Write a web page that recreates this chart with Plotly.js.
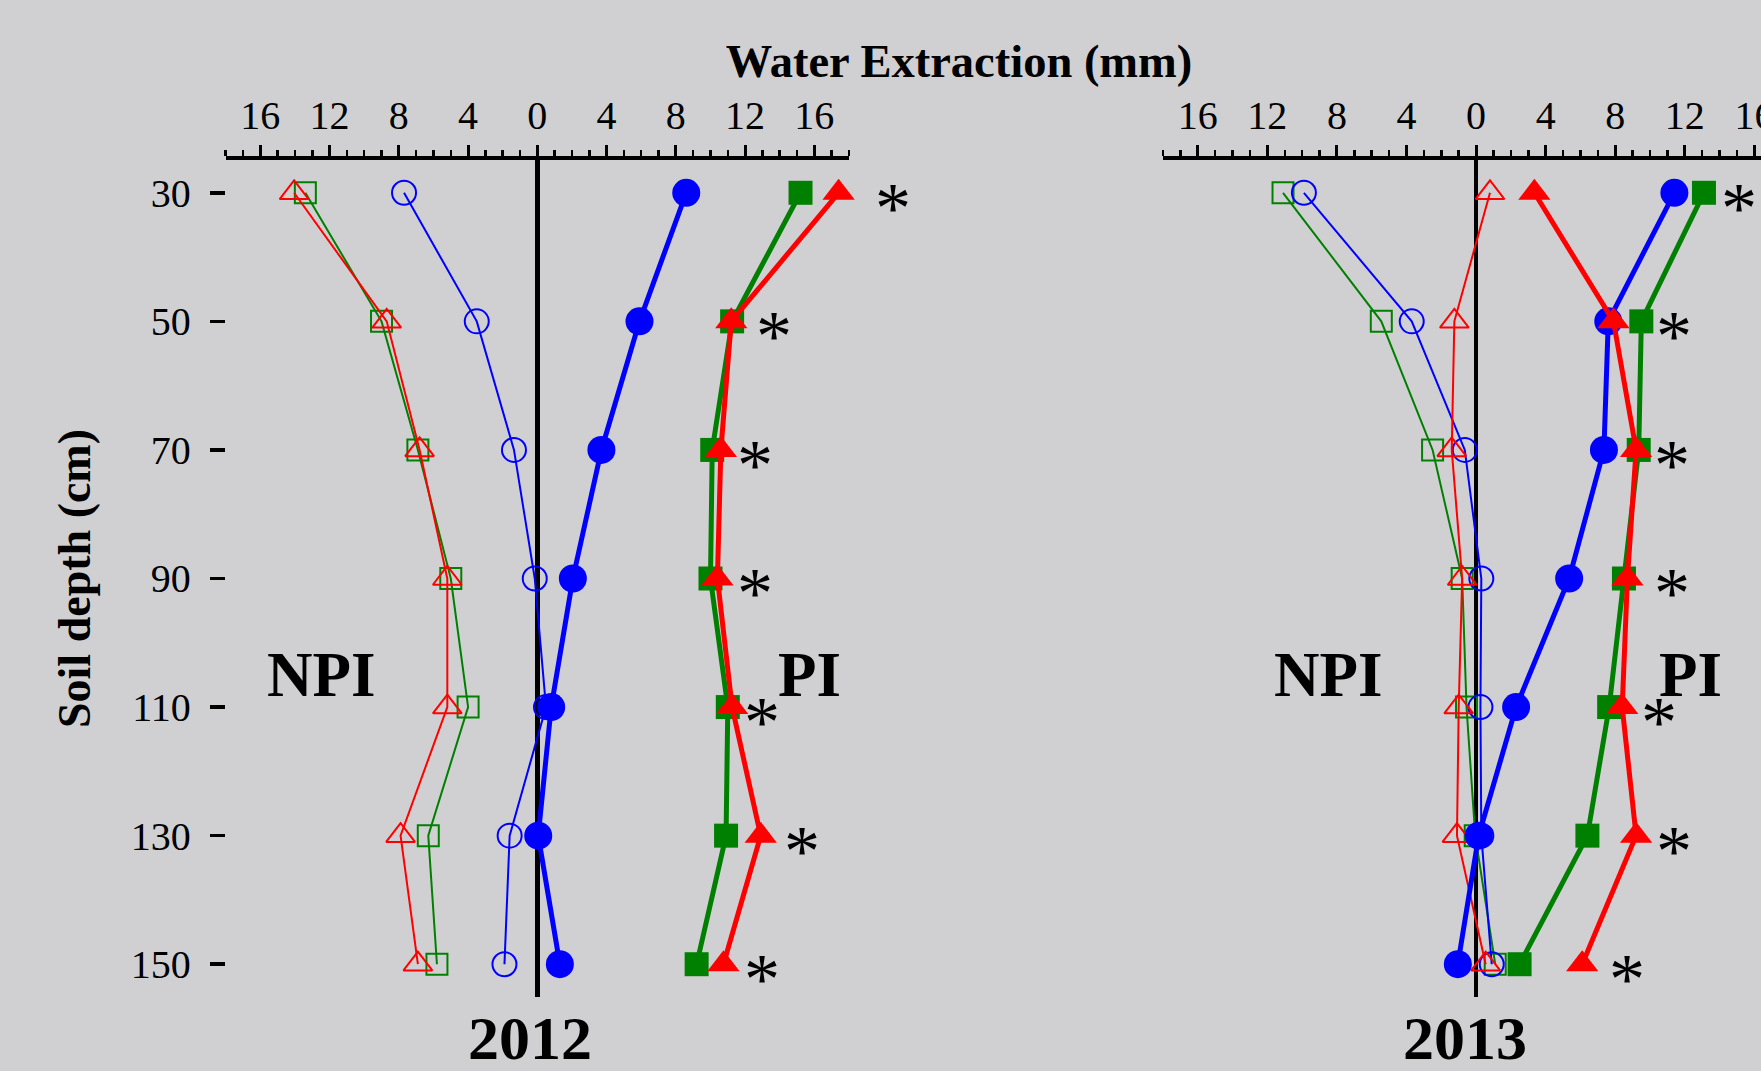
<!DOCTYPE html>
<html>
<head>
<meta charset="utf-8">
<script src="https://cdn.plot.ly/plotly-3.0.1.min.js"></script>
<style>
  html, body { margin: 0; padding: 0; background: #d0d0d2; }
  #chart { width: 1761px; height: 1071px; }
</style>
</head>
<body>
<div id="chart"></div>
<script>
// Soil depth (cm)
const depth = [30, 50, 70, 90, 110, 130, 150];

// X tick values (plotted coordinate) and their labels (absolute water extraction, mm)
const xTickVals = [-16, -12, -8, -4, 0, 4, 8, 12, 16];
const xTickText = ['16', '12', '8', '4', '0', '4', '8', '12', '16'];

// 2012 - NPI (plotted to the left of zero), water extraction (mm)
const npi2012Blue  = [7.7, 3.5, 1.35, 0.15, -0.5, 1.6, 1.9];
const npi2012Green = [13.4, 9.0, 6.9, 5.0, 4.0, 6.3, 5.8];
const npi2012Red   = [14.05, 8.7, 6.8, 5.2, 5.2, 7.9, 6.9];
// 2012 - PI (plotted to the right of zero)
const pi2012Blue  = [8.6, 5.9, 3.7, 2.05, 0.8, 0.05, 1.3];
const pi2012Green = [15.2, 11.25, 10.1, 10.0, 11.0, 10.9, 9.2];
const pi2012Red   = [17.4, 11.2, 10.6, 10.4, 11.25, 12.9, 10.75];

// 2013 - NPI
const npi2013Blue  = [9.9, 3.7, 0.65, -0.3, -0.25, -0.3, -0.9];
const npi2013Green = [11.1, 5.45, 2.5, 0.8, 0.55, 0.05, -1.1];
const npi2013Red   = [-0.8, 1.25, 1.4, 0.8, 1.0, 1.1, -0.55];
// 2013 - PI
const pi2013Blue  = [11.4, 7.6, 7.35, 5.35, 2.3, 0.15, -1.05];
const pi2013Green = [13.1, 9.5, 9.35, 8.5, 7.65, 6.4, 2.5];
const pi2013Red   = [3.35, 7.9, 9.2, 8.7, 8.4, 9.2, 6.1];

// Significance markers (*) : horizontal placement per depth (same scale as the x axes)
const star2012X = [20.55, 13.65, 12.55, 12.55, 12.95, 15.3, 12.95];
const star2013X = [15.1, 11.4, 11.25, 11.25, 10.5, 11.4, 8.65];

const SERIF = 'Liberation Serif, Times New Roman, serif';
const BLUE = '#0000ff', GREEN = '#008000', RED = '#ff0000';

function neg(a) { return a.map(v => -v); }

function npiTrace(vals, color, symbol, size, xa, ya) {
  return {
    type: 'scatter', mode: 'lines+markers', x: neg(vals), y: depth,
    xaxis: xa, yaxis: ya, cliponaxis: false, hoverinfo: 'skip',
    line: { color: color, width: 2 },
    marker: { symbol: symbol, size: size, color: color, line: { color: color, width: 2 } }
  };
}
function piTrace(vals, color, symbol, size, xa, ya) {
  return {
    type: 'scatter', mode: 'lines+markers', x: vals, y: depth,
    xaxis: xa, yaxis: ya, cliponaxis: false, hoverinfo: 'skip',
    line: { color: color, width: 5 },
    marker: { symbol: symbol, size: size, color: color, line: { width: 0 } }
  };
}

const data = [
  npiTrace(npi2012Green, GREEN, 'square-open', 21, 'x', 'y'),
  npiTrace(npi2012Blue, BLUE, 'circle-open', 24, 'x', 'y'),
  npiTrace(npi2012Red, RED, 'triangle-up-open', 25, 'x', 'y'),
  piTrace(pi2012Blue, BLUE, 'circle', 28, 'x', 'y'),
  piTrace(pi2012Green, GREEN, 'square', 24, 'x', 'y'),
  piTrace(pi2012Red, RED, 'triangle-up', 28, 'x', 'y'),

  npiTrace(npi2013Green, GREEN, 'square-open', 21, 'x2', 'y2'),
  npiTrace(npi2013Blue, BLUE, 'circle-open', 24, 'x2', 'y2'),
  npiTrace(npi2013Red, RED, 'triangle-up-open', 25, 'x2', 'y2'),
  piTrace(pi2013Blue, BLUE, 'circle', 28, 'x2', 'y2'),
  piTrace(pi2013Green, GREEN, 'square', 24, 'x2', 'y2'),
  piTrace(pi2013Red, RED, 'triangle-up', 28, 'x2', 'y2')
];

const X1_DOMAIN = [0.12817, 0.48211];
const X1_RANGE = [-18, 18];
// wider, invisible companion axis with the same scale as x (for the * beyond the axis end)
const X3_RANGE = [-18, 22];
const X3_DOMAIN = [X1_DOMAIN[0],
  X1_DOMAIN[0] + (X1_DOMAIN[1] - X1_DOMAIN[0]) * (X3_RANGE[1] - X3_RANGE[0]) / (X1_RANGE[1] - X1_RANGE[0])];

function xAxis(domain, range, anchor) {
  return {
    domain: domain, range: range, anchor: anchor, side: 'top',
    tickmode: 'array', tickvals: xTickVals, ticktext: xTickText,
    ticks: 'outside', ticklen: 11, tickwidth: 3, tickcolor: '#000000',
    ticklabelstandoff: 0, ticklabeloverflow: 'allow',
    tickfont: { family: SERIF, size: 40, color: '#000000' },
    showline: true, linewidth: 3.5, linecolor: '#000000',
    showgrid: false,
    zeroline: true, zerolinewidth: 4.5, zerolinecolor: '#000000',
    minor: { tickmode: 'linear', tick0: 0, dtick: 1, ticks: 'outside', ticklen: 6, tickwidth: 2.5, tickcolor: '#000000', showgrid: false },
    fixedrange: true
  };
}
const yDomain = [0.06909, 0.85061];
const yRange = [155.1, 24.9];

function starNotes(xs, xref, yref) {
  return xs.map((x, i) => ({
    text: '*', xref: xref, yref: yref, x: x, y: depth[i],
    xanchor: 'center', yanchor: 'middle', yshift: -15, showarrow: false,
    font: { family: SERIF, size: 72, color: '#000000' }
  }));
}

const bigFont = { family: SERIF, size: 63, color: '#000000' };

const layout = {
  width: 1761, height: 1071,
  margin: { l: 0, r: 0, t: 0, b: 0, pad: 0 },
  paper_bgcolor: '#d0d0d2', plot_bgcolor: 'rgba(0,0,0,0)',
  showlegend: false,
  title: {
    text: '<b>Water Extraction (mm)</b>',
    font: { family: SERIF, size: 46.5, color: '#000000' },
    x: 0.5446, xanchor: 'center', y: 0.943, yanchor: 'middle'
  },
  xaxis: xAxis(X1_DOMAIN, X1_RANGE, 'y'),
  xaxis2: xAxis([0.66042, 1.0], [-18, 16.38], 'y2'),
  xaxis3: { domain: X3_DOMAIN, range: X3_RANGE, anchor: 'y', visible: false, fixedrange: true },
  yaxis: {
    domain: yDomain, range: yRange, anchor: 'x',
    tickmode: 'array', tickvals: depth,
    ticks: 'outside', ticklen: 15, tickwidth: 3.5, tickcolor: '#000000',
    ticklabelstandoff: 11,
    tickfont: { family: SERIF, size: 40, color: '#000000' },
    showline: false, showgrid: false, zeroline: false,
    automargin: false,
    title: { text: '<b>Soil depth (cm)</b>', font: { family: SERIF, size: 46, color: '#000000' }, standoff: 25 },
    fixedrange: true
  },
  yaxis2: {
    domain: yDomain, range: yRange, anchor: 'x2',
    showticklabels: false, ticks: '', showline: false, showgrid: false, zeroline: false,
    fixedrange: true
  },
  annotations: [
    { text: '<b>NPI</b>', xref: 'x', yref: 'y', x: -12.46, y: 105, showarrow: false, font: bigFont },
    { text: '<b>PI</b>', xref: 'x', yref: 'y', x: 15.7, y: 105, showarrow: false, font: bigFont },
    { text: '<b>NPI</b>', xref: 'x2', yref: 'y2', x: -8.5, y: 105, showarrow: false, font: bigFont },
    { text: '<b>PI</b>', xref: 'x2', yref: 'y2', x: 12.3, y: 105, showarrow: false, font: bigFont },
    { text: '<b>2012</b>', xref: 'x', yref: 'paper', x: -0.45, y: 0.031, yanchor: 'middle', showarrow: false, font: { family: SERIF, size: 62, color: '#000000' } },
    { text: '<b>2013</b>', xref: 'x2', yref: 'paper', x: -0.63, y: 0.031, yanchor: 'middle', showarrow: false, font: { family: SERIF, size: 62, color: '#000000' } }
  ].concat(starNotes(star2012X, 'x3', 'y'), starNotes(star2013X, 'x2', 'y2'))
};

Plotly.newPlot('chart', data, layout, { displayModeBar: false, staticPlot: true });
</script>
</body>
</html>
